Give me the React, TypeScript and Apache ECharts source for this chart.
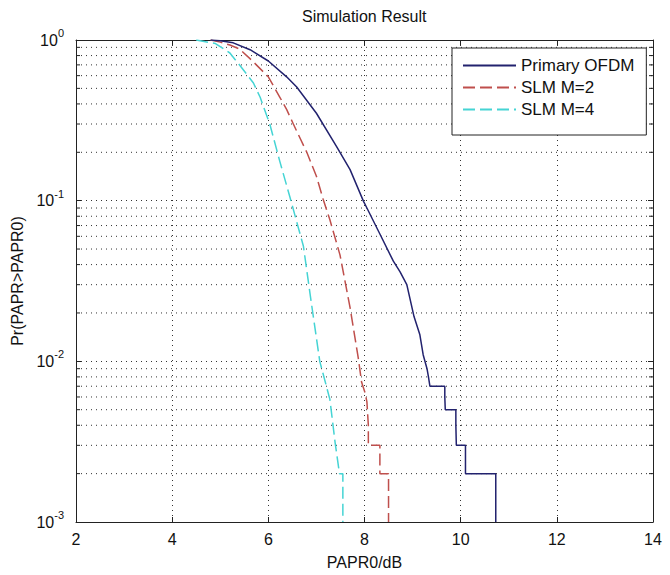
import React, { useEffect, useRef } from "react";
import * as echarts from "echarts";

// ---- data ----
const ofdmX = [4.8, 5.0, 5.27, 5.62, 6.0, 6.38, 6.59, 7.0, 7.42, 7.7, 7.98, 8.05, 8.32, 8.6, 8.74, 8.88, 9.03, 9.15, 9.22, 9.3, 9.33, 9.36, 9.67, 9.67, 9.68, 9.9, 9.9, 9.91, 10.1, 10.1, 10.73, 10.73];
const ofdmP = [1.0, 0.99, 0.96, 0.87, 0.74, 0.59, 0.51, 0.35, 0.217, 0.156, 0.099, 0.09, 0.062, 0.042, 0.036, 0.03, 0.019, 0.0147, 0.011, 0.009, 0.008, 0.007, 0.007, 0.006, 0.005, 0.005, 0.004, 0.003, 0.003, 0.002, 0.002, 0.001];

const slm2X = [4.8, 5.0, 5.2, 5.4, 5.65, 6.0, 6.24, 6.38, 6.52, 6.8, 7.0, 7.14, 7.28, 7.49, 7.7, 7.87, 7.94, 8.01, 8.05, 8.08, 8.08, 8.32, 8.32, 8.5, 8.5];
const slm2P = [1.0, 0.97, 0.93, 0.88, 0.75, 0.59, 0.44, 0.37, 0.3, 0.2, 0.142, 0.102, 0.076, 0.046, 0.0216, 0.0105, 0.0074, 0.0064, 0.0056, 0.004, 0.003, 0.003, 0.002, 0.002, 0.001];

const slm4X = [4.5, 4.9, 5.2, 5.45, 5.69, 5.83, 6.03, 6.24, 6.45, 6.66, 6.73, 6.87, 7.07, 7.28, 7.39, 7.48, 7.55, 7.55];
const slm4P = [1.0, 0.95, 0.83, 0.67, 0.54, 0.44, 0.3, 0.175, 0.105, 0.062, 0.052, 0.026, 0.01, 0.0058, 0.0031, 0.002, 0.002, 0.001];

const seriesNames = ["Primary OFDM", "SLM M=2", "SLM M=4"];
const minorY = [0.002, 0.003, 0.004, 0.005, 0.006, 0.007, 0.008, 0.009, 0.02, 0.03, 0.04, 0.05, 0.06, 0.07, 0.08, 0.09, 0.2, 0.3, 0.4, 0.5, 0.6, 0.7, 0.8, 0.9];

const xMin = 2;
const xMax = 14;
const xStep = 2;
const yMin = 0.001;
const yMax = 1;

const zip = (xs: number[], ys: number[]) => xs.map((x, i) => [x, ys[i]]);

export default function App() {
  const ref = useRef<HTMLDivElement>(null);
  useEffect(() => {
    if (!ref.current) return;
    const chart = echarts.init(ref.current, null, { renderer: "svg" });
    const font = "'Liberation Sans', Arial, sans-serif";
    const axisColor = "#222";
    const dotted = { color: "#333", width: 1, type: [1, 4] as number[] };
    const textColor = "#111";
    const dash = [12, 5];

    chart.setOption({
      animation: false,
      backgroundColor: "#ffffff",
      title: {
        text: "Simulation Result",
        left: 302,
        top: 8,
        padding: 0,
        textStyle: { fontFamily: font, fontSize: 16, fontWeight: "normal", color: textColor },
      },
      legend: {
        data: seriesNames,
        orient: "vertical",
        left: 452,
        top: 48,
        padding: [9, 12, 17, 10],
        itemGap: 5,
        itemWidth: 53,
        itemHeight: 14,
        backgroundColor: "#fff",
        borderColor: axisColor,
        borderWidth: 1,
        borderRadius: 0,
        itemStyle: { color: "rgba(0,0,0,0)", borderWidth: 0, opacity: 0 },
        textStyle: { fontFamily: font, fontSize: 17, color: textColor },
      },
      grid: { left: 76, right: 17, top: 40, bottom: 52, containLabel: false },
      xAxis: [
        {
          type: "value",
          min: xMin,
          max: xMax,
          interval: xStep,
          position: "bottom",
          axisLine: { show: true, onZero: false, lineStyle: { color: axisColor, width: 1 } },
          axisTick: { show: true, inside: true, length: 5, lineStyle: { color: axisColor } },
          axisLabel: { margin: 9, fontSize: 16, color: textColor, fontFamily: font },
          splitLine: { show: true, lineStyle: dotted },
          name: "PAPR0/dB",
          nameLocation: "middle",
          nameGap: 32,
          nameTextStyle: { fontFamily: font, fontSize: 16, color: textColor },
        },
        {
          type: "value",
          min: xMin,
          max: xMax,
          interval: xStep,
          position: "top",
          axisLine: { show: true, onZero: false, lineStyle: { color: axisColor, width: 1 } },
          axisTick: { show: true, inside: true, length: 5, lineStyle: { color: axisColor } },
          axisLabel: { show: false },
          splitLine: { show: false },
        },
      ],
      yAxis: [
        {
          type: "log",
          logBase: 10,
          min: yMin,
          max: yMax,
          position: "left",
          axisLine: { show: true, onZero: false, lineStyle: { color: axisColor, width: 1 } },
          axisTick: { show: true, inside: true, length: 5, lineStyle: { color: axisColor } },
          axisLabel: {
            margin: 12,
            fontFamily: font,
            color: textColor,
            formatter: (v: number) => `{b|10}{s|${Math.round(Math.log10(v))}}`,
            rich: {
              b: { fontSize: 16, fontFamily: font, color: textColor },
              s: { fontSize: 11, fontFamily: font, color: textColor, padding: [0, 0, 14, 0] },
            },
          },
          splitLine: { show: true, lineStyle: dotted },
          name: "Pr(PAPR>PAPR0)",
          nameLocation: "middle",
          nameGap: 41,
          nameRotate: 90,
          nameTextStyle: { fontFamily: font, fontSize: 16, color: textColor },
        },
        {
          type: "log",
          logBase: 10,
          min: yMin,
          max: yMax,
          position: "right",
          axisLine: { show: true, onZero: false, lineStyle: { color: axisColor, width: 1 } },
          axisTick: { show: true, inside: true, length: 5, lineStyle: { color: axisColor } },
          axisLabel: { show: false },
          splitLine: { show: false },
        },
      ],
      series: [
        {
          type: "custom",
          name: "minor-grid",
          silent: true,
          xAxisIndex: 0,
          yAxisIndex: 0,
          z: 1,
          data: minorY.map((v) => [xMin, v]),
          renderItem: (_params: any, api: any) => {
            const v = api.value(1);
            const p0 = api.coord([xMin, v]);
            const p1 = api.coord([xMax, v]);
            return {
              type: "group",
              children: [
                {
                  type: "line",
                  shape: { x1: p0[0], y1: p0[1], x2: p1[0], y2: p1[1] },
                  style: { stroke: "#333", lineWidth: 1, lineDash: [1, 4] },
                },
                {
                  type: "line",
                  shape: { x1: p0[0], y1: p0[1], x2: p0[0] + 4, y2: p0[1] },
                  style: { stroke: axisColor, lineWidth: 1 },
                },
                {
                  type: "line",
                  shape: { x1: p1[0] - 4, y1: p1[1], x2: p1[0], y2: p1[1] },
                  style: { stroke: axisColor, lineWidth: 1 },
                },
              ],
            };
          },
        },
        {
          type: "line",
          name: seriesNames[0],
          data: zip(ofdmX, ofdmP),
          symbol: "none",
          showSymbol: false,
          z: 5,
          lineStyle: { color: "#22226e", width: 1.5, type: "solid" },
          itemStyle: { color: "#22226e" },
        },
        {
          type: "line",
          name: seriesNames[1],
          data: zip(slm2X, slm2P),
          symbol: "none",
          showSymbol: false,
          z: 4,
          lineStyle: { color: "#bf4f4c", width: 1.5, type: dash },
          itemStyle: { color: "#bf4f4c" },
        },
        {
          type: "line",
          name: seriesNames[2],
          data: zip(slm4X, slm4P),
          symbol: "none",
          showSymbol: false,
          z: 4,
          lineStyle: { color: "#45d4d4", width: 1.5, type: dash },
          itemStyle: { color: "#45d4d4" },
        },
      ],
    });
    return () => chart.dispose();
  }, []);
  return <div ref={ref} style={{ position: "fixed", left: 0, top: 0, width: 670, height: 575 }} />;
}
